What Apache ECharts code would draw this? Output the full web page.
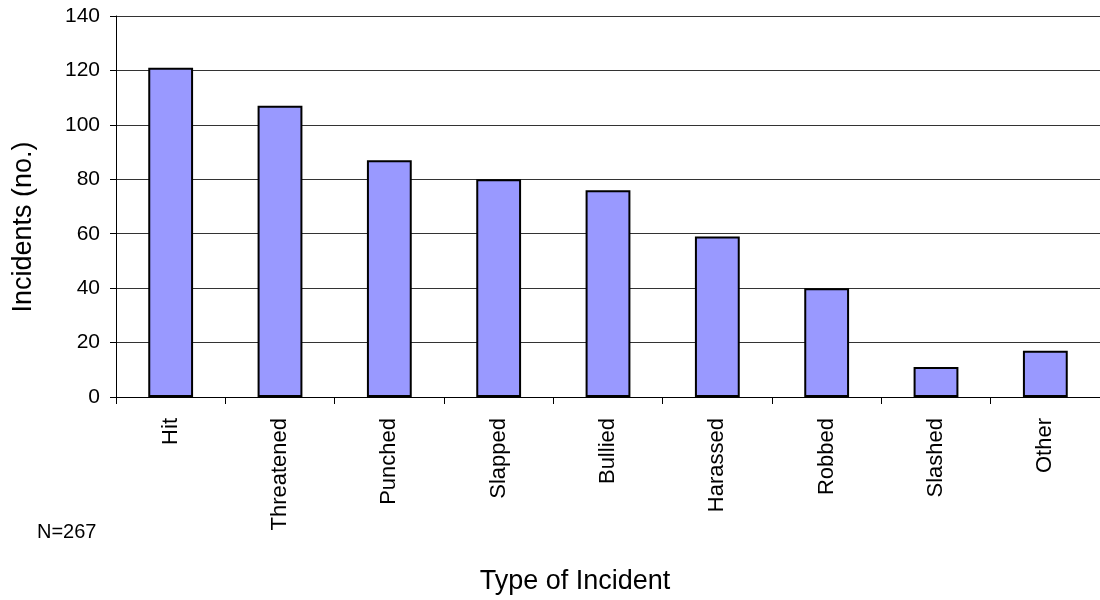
<!DOCTYPE html>
<html>
<head>
<meta charset="utf-8">
<script src="https://cdn.jsdelivr.net/npm/echarts@6/dist/echarts.min.js"></script>
<style>
	html, body { margin: 0; padding: 0; background: #fff; }
	#chart { width: 1100px; height: 600px; }
</style>
</head>
<body>
<div id="chart"></div>
<script>
// incident types and counts
var categories = ['Hit', 'Threatened', 'Punched', 'Slapped', 'Bullied', 'Harassed', 'Robbed', 'Slashed', 'Other'];
var incidents = [121, 107, 87, 80, 76, 59, 40, 11, 17];
var yTicks = [0, 20, 40, 60, 80, 100, 120, 140];

var myChart = echarts.init(document.getElementById('chart'));
var font = 'Liberation Sans, Arial, sans-serif';

var option = {
	animation: false,
	grid: {
		left: 116,
		right: -2,
		top: 16,
		bottom: 203
	},
	//axis titles and note placed by hand
	graphic: [{
		type: 'text',
		left: 37,
		top: 522,
		style: { text: 'N=267', font: '20px ' + font, fill: '#000' }
	}, {
		type: 'text',
		x: 575,
		y: 582,
		style: {
			text: 'Type of Incident', font: '27px ' + font, fill: '#000',
			textAlign: 'center', textVerticalAlign: 'middle'
		}
	}, {
		type: 'text',
		x: 24,
		y: 227,
		rotation: Math.PI / 2,
		style: {
			text: 'Incidents (no.)', font: '27px ' + font, fill: '#000',
			textAlign: 'center', textVerticalAlign: 'middle'
		}
	}],
	xAxis: {
		type: 'category',
		data: categories,
		axisLine: { lineStyle: { color: '#000', width: 1 } },
		axisTick: { show: true, length: 7, lineStyle: { color: '#000' } },
		axisLabel: { rotate: 90, margin: 21, fontFamily: font, fontSize: 22, color: '#000' }
	},
	yAxis: {
		type: 'value',
		min: yTicks[0],
		max: yTicks[yTicks.length - 1],
		interval: 20,
		axisLine: { show: true, lineStyle: { color: '#000', width: 1 } },
		axisTick: { show: true, length: 6, lineStyle: { color: '#000' } },
		axisLabel: { margin: 16, fontFamily: font, fontSize: 21, color: '#000' },
		splitLine: { lineStyle: { color: '#333', width: 1 } }
	},
	series: [{
		type: 'bar',
		data: incidents,
		barWidth: '41%',
		itemStyle: {
			color: '#9999FF',
			borderColor: '#000',
			borderWidth: 2
		}
	}]
};
myChart.setOption(option);
</script>
</body>
</html>
